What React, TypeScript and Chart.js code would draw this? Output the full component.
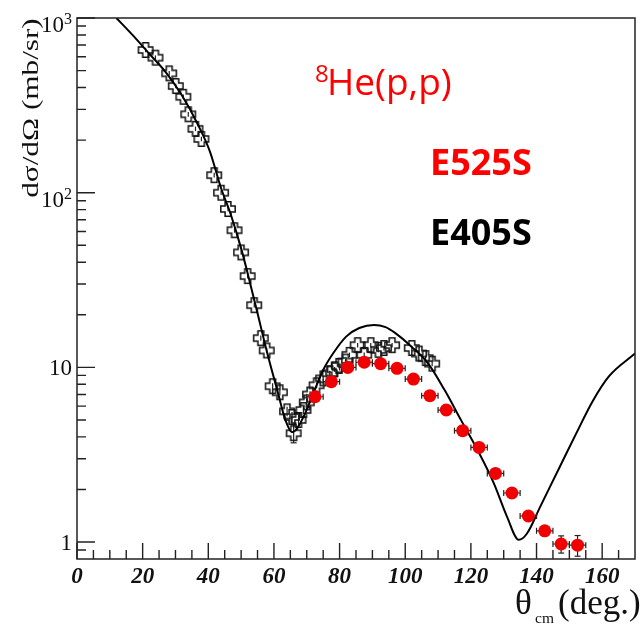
import { useEffect, useRef } from 'react';
import { Chart, registerables } from 'chart.js';

Chart.register(...registerables);

// Theory curve (solid line)
const theoryX = [12, 16.9, 21.9, 26.9, 31.9, 36.9, 40.5, 43.9, 46.9, 50.0, 52.0, 55.0, 58.0, 61.0, 63.5, 65.5, 66.8, 69.0, 72.0, 75.0, 78.0, 82.0, 86.0, 90.5, 94.0, 97.0, 102.0, 107.0, 112.0, 117.0, 122.0, 127.0, 131.0, 134.6, 137.1, 141.1, 147.1, 152.1, 157.1, 162.1, 170.0];
const theoryY = [1000, 800, 628, 493, 362, 244, 172, 106, 74.5, 48, 34.5, 20.4, 12.0, 7.41, 4.99, 4.25, 4.4, 5.21, 7.1, 9.66, 12.0, 15.0, 16.8, 17.5, 17.0, 15.7, 13.1, 10.5, 7.41, 4.99, 3.37, 2.17, 1.40, 1.03, 1.12, 1.59, 2.70, 4.19, 6.4, 8.9, 12.0];

// E405S (open crosses)
const e405X = [20.9, 23.9, 28.1, 30.1, 32.4, 33.9, 36.1, 37.9, 41.8, 43.9, 46.0, 48.0, 50.0, 52.0, 54.0, 56.0, 57.8, 59.6, 61.8, 64.0, 65.5, 66.0, 67.5, 69.0, 70.0, 71.0, 73.0, 75.0, 77.0, 78.5, 79.8, 81.8, 83.0, 85.5, 87.5, 89.5, 91.8, 93.5, 96.0, 102.0, 104.2, 106.2, 108.2];
const e405Y = [656, 593, 482, 408, 354, 281, 232, 203, 126, 100, 80.7, 61, 45.5, 33.3, 22.7, 14.7, 12.5, 7.8, 7.2, 5.6, 5.2, 4.2, 5.0, 5.7, 6.3, 7.0, 7.9, 8.65, 9.25, 9.75, 10.2, 10.8, 11.8, 13.4, 11.8, 13.4, 12.6, 12.9, 13.4, 12.9, 12.0, 11.3, 10.5];
const e405Err = [20, 18, 15, 12, 11, 9, 7, 6, 4, 3, 2.5, 2, 1.4, 1.0, 0.7, 0.5, 0.4, 0.3, 0.3, 0.35, 0.35, 0.5, 0.35, 0.3, 0.3, 0.3, 0.3, 0.3, 0.3, 0.3, 0.3, 0.35, 0.35, 0.4, 0.35, 0.4, 0.4, 0.4, 0.4, 0.4, 0.4, 0.35, 0.35];

// E525S (red filled circles)
const e525X = [72.5, 77.5, 82.5, 87.5, 92.5, 97.5, 102.5, 107.5, 112.5, 117.5, 122.5, 127.5, 132.5, 137.5, 142.5, 147.5, 152.5];
const e525Y = [6.79, 8.28, 10.0, 10.7, 10.5, 9.87, 8.57, 6.89, 5.70, 4.34, 3.48, 2.47, 1.91, 1.41, 1.16, 0.975, 0.96];
const e525ErrY = [0.2, 0.2, 0.25, 0.25, 0.25, 0.25, 0.2, 0.2, 0.15, 0.12, 0.1, 0.08, 0.07, 0.06, 0.07, 0.11, 0.13];
const e525ErrX = [2.5, 2.5, 2.5, 2.5, 2.5, 2.5, 2.5, 2.5, 2.5, 2.5, 2.5, 2.5, 2.5, 2.5, 2.5, 2.5, 2.5];

const xTickValues = [0, 20, 40, 60, 80, 100, 120, 140, 160];
const xMinorTicks = [5, 10, 15, 25, 30, 35, 45, 50, 55, 65, 70, 75, 85, 90, 95, 105, 110, 115, 125, 130, 135, 145, 150, 155, 165];
const yTickValues = [1, 10, 100, 1000];
const yTickMantissa = ['1', '10', '10', '10'];
const yTickExponent = ['', '', '2', '3'];
const yMinorTicks = [0.9, 2, 3, 4, 5, 6, 7, 8, 9, 20, 30, 40, 50, 60, 70, 80, 90, 200, 300, 400, 500, 600, 700, 800, 900];

const SERIF = "'Liberation Serif', 'DejaVu Serif', serif";
const SANS = "'Open Sans', 'Liberation Sans', sans-serif";

function makeCross(): HTMLCanvasElement {
  const c = document.createElement('canvas');
  c.width = 18;
  c.height = 18;
  const g = c.getContext('2d')!;
  const cx = 9, cy = 9, a = 2.9, L = 7.2;
  g.beginPath();
  g.moveTo(cx - a, cy - L);
  g.lineTo(cx + a, cy - L);
  g.lineTo(cx + a, cy - a);
  g.lineTo(cx + L, cy - a);
  g.lineTo(cx + L, cy + a);
  g.lineTo(cx + a, cy + a);
  g.lineTo(cx + a, cy + L);
  g.lineTo(cx - a, cy + L);
  g.lineTo(cx - a, cy + a);
  g.lineTo(cx - L, cy + a);
  g.lineTo(cx - L, cy - a);
  g.lineTo(cx - a, cy - a);
  g.closePath();
  g.strokeStyle = '#111';
  g.lineWidth = 1.5;
  g.stroke();
  return c;
}

const decorPlugin = {
  id: 'decor',
  beforeDatasetDraw(chart: any, args: any) {
    const ds = chart.data.datasets[args.index] as any;
    if (!ds.errY) return;
    const xs = chart.scales.x;
    const ys = chart.scales.y;
    const ctx = chart.ctx as CanvasRenderingContext2D;
    const a = chart.chartArea;
    ctx.save();
    ctx.beginPath();
    ctx.rect(a.left, a.top, a.right - a.left, a.bottom - a.top);
    ctx.clip();
    ctx.strokeStyle = '#222';
    ctx.lineWidth = 1.2;
    ds.data.forEach((p: any, i: number) => {
      const px = xs.getPixelForValue(p.x);
      const py = ys.getPixelForValue(p.y);
      const ey = ds.errY[i];
      const y1 = ys.getPixelForValue(p.y + ey);
      const y2 = ys.getPixelForValue(p.y - ey);
      ctx.beginPath();
      ctx.moveTo(px, y1);
      ctx.lineTo(px, y2);
      ctx.stroke();
      if (py - y1 > ds.capMin) {
        ctx.beginPath();
        ctx.moveTo(px - 3, y1);
        ctx.lineTo(px + 3, y1);
        ctx.stroke();
      }
      if (y2 - py > ds.capMin) {
        ctx.beginPath();
        ctx.moveTo(px - 3, y2);
        ctx.lineTo(px + 3, y2);
        ctx.stroke();
      }
      if (ds.errX) {
        const x1 = xs.getPixelForValue(p.x - ds.errX[i]);
        const x2 = xs.getPixelForValue(p.x + ds.errX[i]);
        ctx.beginPath();
        ctx.moveTo(x1, py);
        ctx.lineTo(x2, py);
        ctx.moveTo(x1, py - 3);
        ctx.lineTo(x1, py + 3);
        ctx.moveTo(x2, py - 3);
        ctx.lineTo(x2, py + 3);
        ctx.stroke();
      }
    });
    ctx.restore();
  },
  afterDatasetsDraw(chart: any) {
    const ctx = chart.ctx as CanvasRenderingContext2D;
    const a = chart.chartArea;
    const xs = chart.scales.x;
    const ys = chart.scales.y;
    ctx.save();
    ctx.strokeStyle = '#222';
    ctx.lineWidth = 1.5;
    ctx.strokeRect(a.left, a.top, a.right - a.left, a.bottom - a.top);
    ctx.lineWidth = 1.4;
    ctx.beginPath();
    xTickValues.forEach((v) => {
      const x = xs.getPixelForValue(v);
      ctx.moveTo(x, a.bottom);
      ctx.lineTo(x, a.bottom - 16);
    });
    xMinorTicks.forEach((v) => {
      const x = xs.getPixelForValue(v);
      ctx.moveTo(x, a.bottom);
      ctx.lineTo(x, a.bottom - 9);
    });
    yTickValues.forEach((v) => {
      const y = ys.getPixelForValue(v);
      ctx.moveTo(a.left, y);
      ctx.lineTo(a.left + 18, y);
    });
    yMinorTicks.forEach((v) => {
      const y = ys.getPixelForValue(v);
      ctx.moveTo(a.left, y);
      ctx.lineTo(a.left + 9, y);
    });
    ctx.stroke();

    // Y tick labels (mantissa + raised exponent)
    ctx.fillStyle = '#111';
    ctx.textBaseline = 'alphabetic';
    ctx.textAlign = 'right';
    const right = a.left - 5;
    yTickValues.forEach((v, i) => {
      const y = ys.getPixelForValue(v);
      const exp = yTickExponent[i];
      if (exp) {
        ctx.font = `16px ${SERIF}`;
        const ew = ctx.measureText(exp).width;
        ctx.fillText(exp, right, y + 6);
        ctx.font = `23px ${SERIF}`;
        ctx.fillText(yTickMantissa[i], right - ew, y + 14);
      } else {
        ctx.font = `23px ${SERIF}`;
        ctx.fillText(yTickMantissa[i], right, y + 8);
      }
    });
    ctx.restore();
  },
  afterDraw(chart: any) {
    const ctx = chart.ctx as CanvasRenderingContext2D;
    ctx.save();
    // Y axis title
    ctx.fillStyle = '#111';
    ctx.translate(38, 108);
    ctx.rotate(-Math.PI / 2);
    ctx.scale(1.3, 1);
    ctx.font = `24px ${SERIF}`;
    ctx.textAlign = 'center';
    ctx.textBaseline = 'alphabetic';
    ctx.fillText('dσ/dΩ (mb/sr)', 0, 0);
    ctx.restore();

    // X axis title
    ctx.save();
    ctx.fillStyle = '#111';
    ctx.textAlign = 'left';
    ctx.textBaseline = 'alphabetic';
    ctx.font = `35px ${SERIF}`;
    ctx.fillText('θ', 515, 614);
    ctx.font = `15.5px ${SERIF}`;
    ctx.fillText('cm', 535, 623);
    ctx.font = `35px ${SERIF}`;
    ctx.fillText('(deg.)', 558, 614);

    // Annotations
    ctx.fillStyle = '#ff0000';
    ctx.font = `24px ${SANS}`;
    ctx.fillText('8', 315, 82);
    ctx.font = `37px ${SANS}`;
    ctx.fillText('He(p,p)', 327, 95);
    ctx.font = `bold 36px ${SANS}`;
    ctx.fillText('E525S', 430, 175);
    ctx.fillStyle = '#000';
    ctx.fillText('E405S', 430, 245);
    ctx.restore();
  },
};

export default function App() {
  const ref = useRef<HTMLCanvasElement | null>(null);
  useEffect(() => {
    if (!ref.current) return;
    const cross = makeCross();
    const chart = new Chart(ref.current, {
      type: 'scatter',
      data: {
        datasets: [
          {
            label: 'E525S',
            data: e525X.map((x, i) => ({ x, y: e525Y[i] })),
            pointStyle: 'circle',
            pointRadius: 6.5,
            backgroundColor: 'rgb(240,0,0)',
            borderWidth: 0,
            order: 1,
            errY: e525ErrY,
            errX: e525ErrX,
            capMin: 7,
          } as any,
          {
            label: 'theory',
            type: 'line',
            data: theoryX.map((x, i) => ({ x, y: theoryY[i] })),
            borderColor: '#000',
            borderWidth: 2,
            pointRadius: 0,
            cubicInterpolationMode: 'monotone',
            fill: false,
            order: 2,
          } as any,
          {
            label: 'E405S',
            data: e405X.map((x, i) => ({ x, y: e405Y[i] })),
            pointStyle: cross,
            pointRadius: 8,
            order: 3,
            errY: e405Err,
            capMin: 8,
          } as any,
        ],
      },
      options: {
        animation: false,
        responsive: true,
        maintainAspectRatio: false,
        layout: { padding: { top: 18, right: 1, left: 0, bottom: 0 } },
        plugins: { legend: { display: false }, tooltip: { enabled: false } },
        events: [],
        scales: {
          x: {
            type: 'linear',
            min: 0,
            max: 170,
            grid: { display: false, drawTicks: false },
            border: { display: false },
            ticks: {
              font: { family: SERIF, size: 23, weight: 'bold', style: 'italic' },
              color: '#111',
              padding: 4,
              maxRotation: 0,
              autoSkip: false,
            },
            afterBuildTicks: (s: any) => {
              s.ticks = xTickValues.map((v) => ({ value: v }));
            },
            afterFit: (s: any) => {
              s.height = 67;
            },
          },
          y: {
            type: 'logarithmic',
            min: 0.8,
            max: 1000,
            grid: { display: false, drawTicks: false },
            border: { display: false },
            ticks: { display: false },
            afterBuildTicks: (s: any) => {
              s.ticks = yTickValues.map((v) => ({ value: v }));
            },
            afterFit: (s: any) => {
              s.width = 77;
            },
          },
        },
      } as any,
      plugins: [decorPlugin],
    });
    return () => chart.destroy();
  }, []);
  return (
    <div style={{ position: 'fixed', left: 0, top: 0, width: 644, height: 626, background: '#fff' }}>
      <canvas ref={ref} />
    </div>
  );
}
